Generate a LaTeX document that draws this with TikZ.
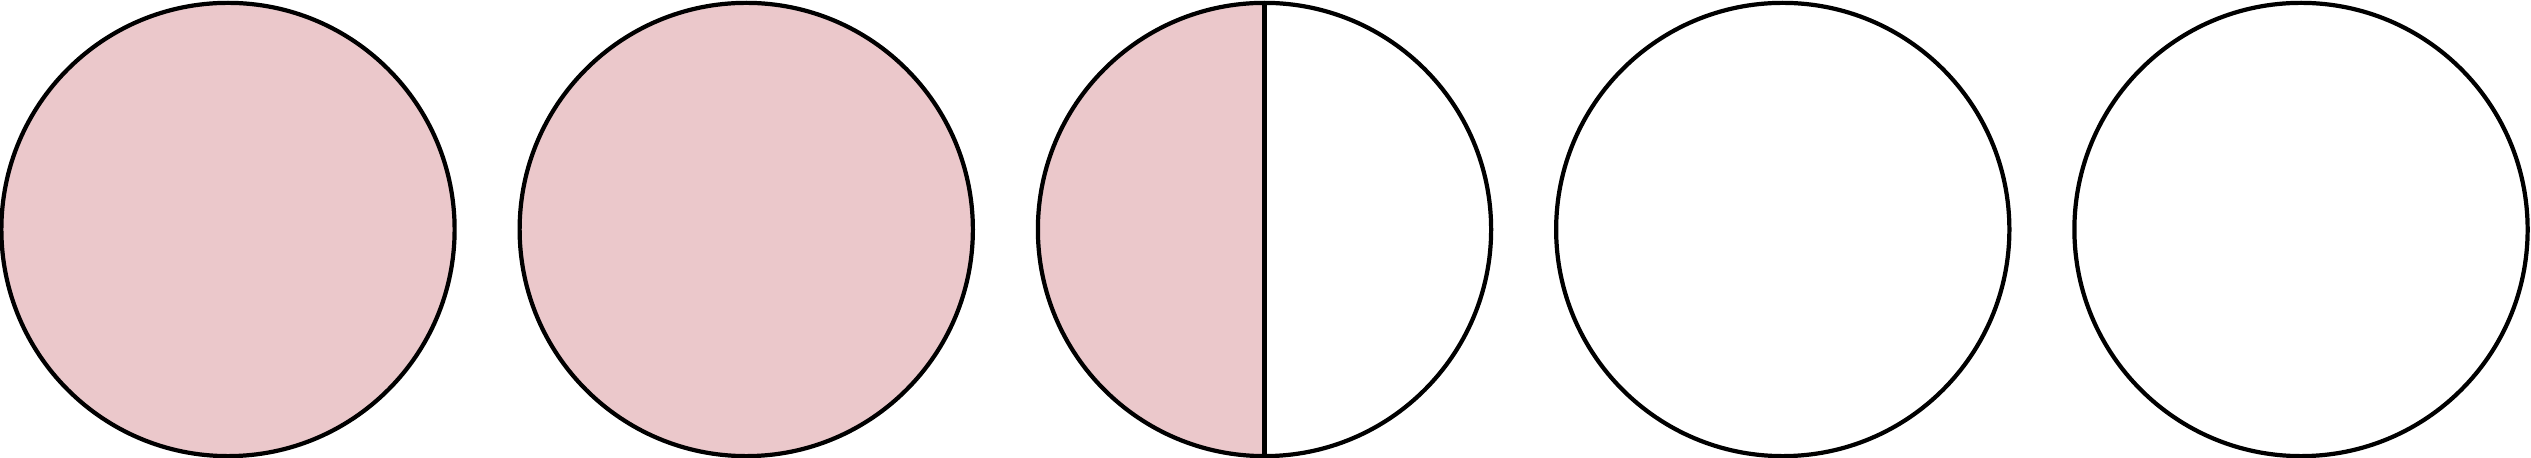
\documentclass[tikz,border=0pt]{standalone}
\usepackage{xcolor}
\usepackage{tikz}
\usetikzlibrary{backgrounds}

\definecolor{pinkfill}{RGB}{235,200,203}

\begin{document}
\begin{tikzpicture}[
    x=0.01cm, y=0.01cm,
    disc/.style={draw, circle, line width=1.2pt, inner sep=0pt, outer sep=0pt, minimum size=4.53cm},
    full/.style={fill=pinkfill},
    divider/.style={line width=1.2pt}
]
    \useasboundingbox (0,0) rectangle (2531,458);

    \node[disc, full] (d1) at (228,228.5) {};
    \node[disc, full] (d2) at (746.25,228.5) {};
    \node[disc] (d3) at (1264.5,228.5) {};
    \node[disc] (d4) at (1782.75,228.5) {};
    \node[disc] (d5) at (2301,228.5) {};

    % left half of the middle one
    \begin{scope}[on background layer]
        \fill[pinkfill] (d3.north) arc[start angle=90, end angle=270, radius=2.265cm] -- cycle;
    \end{scope}
    \draw[divider] (d3.north) -- (d3.south);
\end{tikzpicture}
\end{document}
